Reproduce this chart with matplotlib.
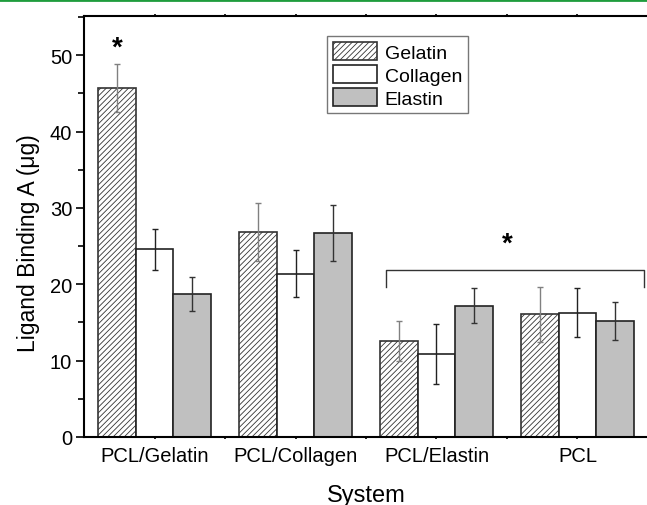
import matplotlib
matplotlib.use("Agg")
import matplotlib.pyplot as plt
import numpy as np
from matplotlib.lines import Line2D
from matplotlib.ticker import MultipleLocator, FixedLocator

plt.rcParams['font.family'] = ['Liberation Sans', 'DejaVu Sans']
plt.rcParams['hatch.linewidth'] = 0.6

categories = ["PCL/Gelatin", "PCL/Collagen", "PCL/Elastin", "PCL"]
series = ["Gelatin", "Collagen", "Elastin"]
gelatin = [45.7, 26.8, 12.6, 16.1]
gelatin_err = [3.1, 3.8, 2.6, 3.6]
collagen = [24.6, 21.4, 10.9, 16.3]
collagen_err = [2.7, 3.1, 3.9, 3.2]
elastin = [18.7, 26.7, 17.2, 15.2]
elastin_err = [2.2, 3.7, 2.3, 2.5]

W, H = 647, 506
AX_H = 438 - 17.3
fig = plt.figure(figsize=(W/100, H/100), dpi=100)
ax = fig.add_axes([84/W, 68/H, (648-84)/W, AX_H/H])

x = np.arange(len(categories))
bw = 0.267
styles = [
    dict(facecolor='white', hatch='//////', edgecolor='#333333', ecol='#808080'),
    dict(facecolor='white', hatch=None, edgecolor='#222222', ecol='#222222'),
    dict(facecolor='#c0c0c0', hatch=None, edgecolor='#222222', ecol='#333333'),
]
vals = [gelatin, collagen, elastin]
errs = [gelatin_err, collagen_err, elastin_err]
for i, (v, e, st, name) in enumerate(zip(vals, errs, styles, series)):
    xs = x + (i - 1) * bw
    ax.bar(xs, v, width=bw, facecolor=st['facecolor'], hatch=st['hatch'],
           edgecolor=st['edgecolor'], linewidth=1.2, label=name, zorder=2)
    ax.errorbar(xs, v, yerr=e, fmt='none', ecolor=st['ecol'], elinewidth=1.0,
                capsize=2.5, capthick=1.0, zorder=3)

ax.set_xlim(-0.5, 3.5)
ax.set_ylim(0, 55.1)
ax.set_xticks(x)
ax.set_xticklabels(categories, fontsize=14)
ax.xaxis.set_minor_locator(FixedLocator([0.5, 1.5, 2.5]))
ax.yaxis.set_major_locator(MultipleLocator(10))
ax.yaxis.set_minor_locator(MultipleLocator(5))
ax.tick_params(axis='both', which='major', direction='out', length=6, width=1.2, labelsize=14.5)
ax.tick_params(axis='both', which='minor', direction='out', length=4, width=1.2)
ax.tick_params(axis='y', which='major', pad=2.5)
ax.tick_params(axis='x', which='major', pad=5)
ax.tick_params(axis='x', which='both', top=True)
ax.tick_params(axis='x', which='major', top=True, length=1.5)
ax.tick_params(axis='x', which='minor', top=True, length=1.5)
ax.set_xlabel("System", fontsize=17)
ax.xaxis.label.set_va('baseline')
ax.xaxis.set_label_coords(0.5, (438 - 502) / AX_H)
ax.set_ylabel("Ligand Binding A (\u03bcg)", fontsize=16.5)
ax.yaxis.label.set_va('center')
ax.yaxis.set_label_coords((29 - 84) / 564, (438 - 243) / AX_H)
for s in ['left', 'bottom', 'top']:
    ax.spines[s].set_linewidth(1.5)
ax.spines['right'].set_visible(False)

# significance markers
ax.text(0 - bw, 49.3, "*", ha='center', va='bottom', fontsize=20, fontweight='bold')
bx0, bx1, by, bl = 1.64, 3.47, 21.9, 19.7
ax.plot([bx0, bx0, bx1, bx1], [bl, by, by, bl], color='#333333', linewidth=1.0)
ax.text(2.5, 23.6, "*", ha='center', va='bottom', fontsize=20, fontweight='bold')

leg = ax.legend(loc='upper left', bbox_to_anchor=((327-84)/564, (438-37)/AX_H),
                fontsize=14, frameon=True, fancybox=False, edgecolor='#555555',
                handlelength=2.27, handleheight=1.08, labelspacing=0.16,
                borderpad=0.3, handletextpad=0.4, borderaxespad=0)
leg.get_frame().set_linewidth(1.0)

fig.add_artist(Line2D([0, 1], [1 - 1/H, 1 - 1/H], color='#1e9c3c', linewidth=2.0,
                      transform=fig.transFigure))

fig.savefig("out.png", dpi=100)
